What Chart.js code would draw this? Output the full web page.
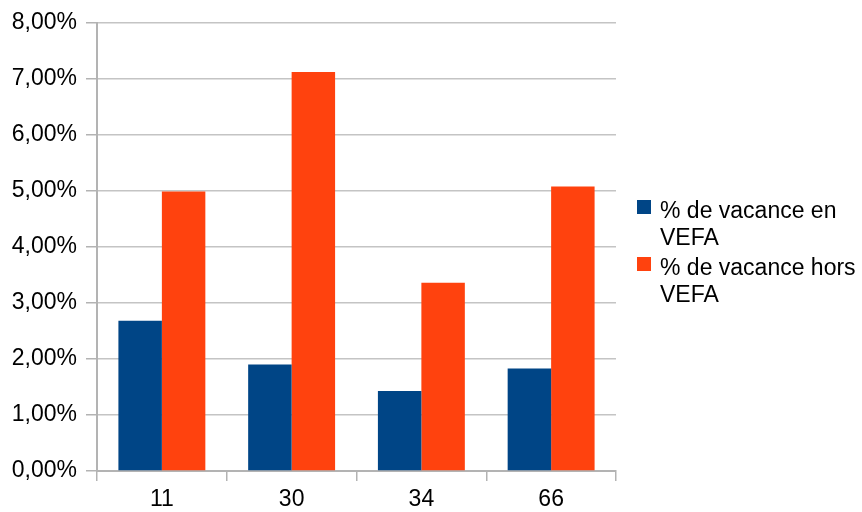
<!DOCTYPE html>
<html>
<head>
<meta charset="utf-8">
<script src="https://cdn.jsdelivr.net/npm/chart.js@4/dist/chart.umd.min.js"></script>
<style>
  html, body { margin: 0; padding: 0; background: #ffffff; }
  #wrap { width: 862px; height: 512px; position: relative; }
</style>
</head>
<body>
<div id="wrap"><canvas id="c" width="862" height="512"></canvas></div>
<script>
// Vacancy rates by department (percent)
const categories = ['11', '30', '34', '66'];
const vacanceEnVefa = [2.68, 1.90, 1.43, 1.83];
const vacanceHorsVefa = [4.99, 7.12, 3.36, 5.08];
const seriesNames = ['% de vacance en VEFA', '% de vacance hors VEFA'];
const seriesColors = ['#004586', '#ff420e'];
const yTicks = { min: 0, max: 8, step: 1 };

const FONT = '"Liberation Sans", Arial, sans-serif';
const FONT_SIZE = 23;
const AXIS_GREY = '#b3b3b3';

// Legend drawn at the right, with word-wrapped labels
const wrappedLegend = {
  id: 'wrappedLegend',
  afterDraw(chart) {
    const ctx = chart.ctx;
    ctx.save();
    ctx.font = FONT_SIZE + 'px ' + FONT;
    ctx.fillStyle = '#000000';
    ctx.textBaseline = 'alphabetic';
    const textX = 660, boxX = 637, box = 14, maxW = 200;
    const lineH = 27;
    let baseline = 218;
    chart.data.datasets.forEach((ds, i) => {
      const words = ds.label.split(' ');
      const lines = [];
      let cur = '';
      words.forEach(w => {
        const t = cur ? cur + ' ' + w : w;
        if (cur && ctx.measureText(t).width > maxW) { lines.push(cur); cur = w; }
        else cur = t;
      });
      if (cur) lines.push(cur);
      ctx.fillStyle = ds.backgroundColor;
      ctx.fillRect(boxX, baseline - 18, box, box);
      ctx.fillStyle = '#000000';
      lines.forEach((ln, k) => ctx.fillText(ln, textX, baseline + k * lineH));
      baseline += lines.length * lineH + 3;
    });
    ctx.restore();
  }
};

new Chart(document.getElementById('c'), {
  type: 'bar',
  data: {
    labels: categories,
    datasets: [
      { label: seriesNames[0], data: vacanceEnVefa, backgroundColor: seriesColors[0] },
      { label: seriesNames[1], data: vacanceHorsVefa, backgroundColor: seriesColors[1] }
    ]
  },
  options: {
    responsive: false,
    animation: false,
    devicePixelRatio: 1,
    layout: { padding: { left: 0, top: 22, right: 246, bottom: 0 } },
    datasets: { bar: { categoryPercentage: 0.67, barPercentage: 1.0, borderWidth: 0 } },
    plugins: { legend: { display: false }, tooltip: { enabled: false } },
    scales: {
      x: {
        offset: true,
        grid: {
          offset: true,
          drawOnChartArea: true,
          color: c => (c.index === categories.length ? AXIS_GREY : 'rgba(0,0,0,0)'),
          tickColor: AXIS_GREY,
          tickLength: 10,
          lineWidth: 1.5
        },
        border: { display: true, color: AXIS_GREY, width: 2 },
        ticks: { color: '#000000', font: { family: FONT, size: FONT_SIZE }, padding: 5 },
        afterFit: s => { s.height = 41; }
      },
      y: {
        min: yTicks.min,
        max: yTicks.max,
        grid: { color: '#c4c4c4', tickColor: AXIS_GREY, tickLength: 11, lineWidth: 1.5 },
        border: { display: true, color: AXIS_GREY, width: 2 },
        ticks: {
          stepSize: yTicks.step,
          color: '#000000',
          font: { family: FONT, size: FONT_SIZE },
          padding: 9,
          callback: v => v.toFixed(2).replace('.', ',') + '%'
        },
        afterFit: s => { s.width = 97; }
      }
    }
  },
  plugins: [wrappedLegend]
});
</script>
</body>
</html>
